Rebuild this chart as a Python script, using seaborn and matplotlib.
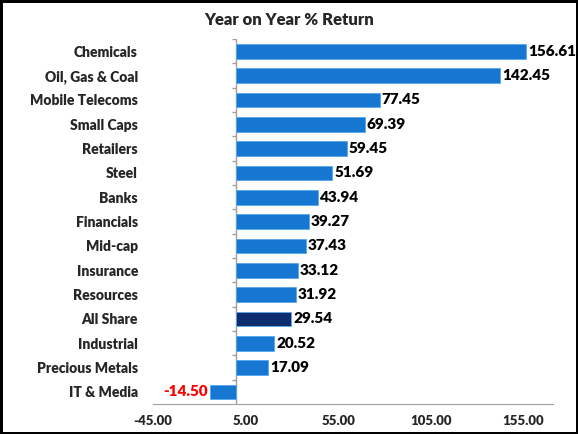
import matplotlib
matplotlib.use('Agg')
import matplotlib.pyplot as plt
import seaborn as sns
import pandas as pd

# data
sectors = ['Chemicals', 'Oil, Gas & Coal', 'Mobile Telecoms', 'Small Caps', 'Retailers',
           'Steel', 'Banks', 'Financials', 'Mid-cap', 'Insurance', 'Resources',
           'All Share', 'Industrial', 'Precious Metals', 'IT & Media']
returns = [156.61, 142.45, 77.45, 69.39, 59.45, 51.69, 43.94, 39.27, 37.43,
           33.12, 31.92, 29.54, 20.52, 17.09, -14.50]
xticks = [-45, 5, 55, 105, 155]

sns.set_style('white')
plt.rcParams['font.family'] = ['Lato', 'DejaVu Sans']

df = pd.DataFrame({'sector': sectors, 'ret': returns})
colors = ['#0d2c6e' if s == 'All Share' else '#1677d2' for s in sectors]

fig = plt.figure(figsize=(5.78, 4.34), dpi=100)
fig.patch.set_edgecolor('black')
fig.patch.set_linewidth(2.5)
ax = fig.add_axes([0.265, 0.069, 0.692, 0.841])

sns.barplot(data=df, x='ret', y='sector', hue='sector', palette=colors,
            orient='h', width=0.6, legend=False, ax=ax, saturation=1,
            edgecolor='#5aa8ea', linewidth=0.6)

ax.set_xlim(-45, 171)
ax.set_xticks(xticks)
ax.set_xticklabels([f'{t:.2f}' for t in xticks], fontsize=9.5, fontweight='heavy')
ax.set_yticks(range(len(sectors)))
ax.set_yticklabels(sectors, fontsize=10, fontweight='heavy')
ax.tick_params(axis='y', length=0, pad=11)
ax.tick_params(axis='x', direction='inout', length=4, color='#a0a0a0', pad=6)
ax.set_xlabel('')
ax.set_ylabel('')

for s in ['top', 'right', 'left']:
    ax.spines[s].set_visible(False)
ax.spines['bottom'].set_color('#a0a0a0')

# category axis at zero with ticks between categories
ax.axvline(0, color='#a0a0a0', lw=1, zorder=0.5)
for i in range(len(sectors)):
    ax.hlines(i - 0.5, -2.5, 0, color='#a0a0a0', lw=1)
ax.set_ylim(len(sectors) - 0.5, -0.5)

for i, v in enumerate(returns):
    if v < 0:
        ax.text(v - 1.2, i, f'{v:.2f}', ha='right', va='center', fontsize=11,
                fontweight='heavy', color='#ff0000')
    else:
        ax.text(v + 1.0, i, f'{v:.2f}', ha='left', va='center', fontsize=11,
                fontweight='heavy', color='black')

fig.text(0.5, 0.955, 'Year on Year % Return', ha='center', va='center',
         fontsize=12, fontweight='heavy')

fig.savefig('out.png', dpi=100, edgecolor=fig.get_edgecolor())
